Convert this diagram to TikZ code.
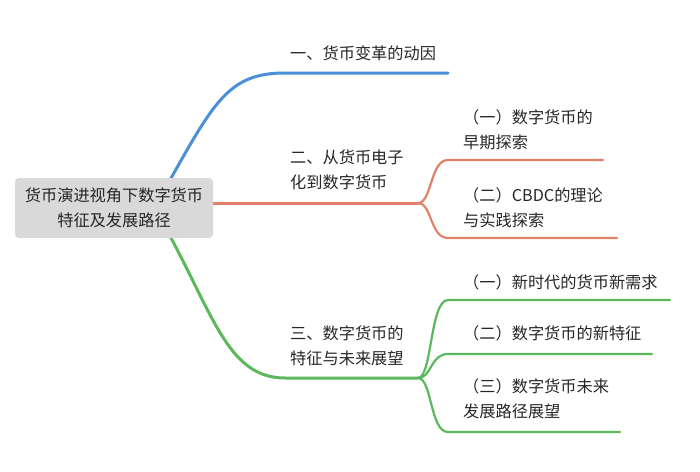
\documentclass[tikz,border=0pt]{standalone}
\usepackage{fontspec}
\setmainfont{Noto Sans CJK SC}
\begin{document}
\begin{tikzpicture}[x=1pt,y=-1pt,
  lbl/.style={anchor=west,align=left,font=\fontsize{16.2}{25}\selectfont,text=black!85,inner sep=0pt},
  br/.style={line width=3pt,line cap=round},
  sb/.style={line width=2.2pt,line cap=round}]
\useasboundingbox (0,0) rectangle (700,471);
\definecolor{cb}{HTML}{4A90D9}\definecolor{co}{HTML}{E0826A}\definecolor{cg}{HTML}{5CB85C}
% branches
\coordinate (rt) at (170,180); \coordinate (rr) at (211,203); \coordinate (rb) at (170,236);
\coordinate (b1) at (285,73); \coordinate (b1e) at (448,73);
\coordinate (o1) at (418,203);
\coordinate (o2) at (448,160); \coordinate (o2e) at (603,160);
\coordinate (o3) at (448,238); \coordinate (o3e) at (617,238);
\coordinate (g1) at (285,378); \coordinate (g1e) at (418,378);
\coordinate (g2) at (448,300); \coordinate (g2e) at (670,300);
\coordinate (g3) at (448,354); \coordinate (g3e) at (652,354);
\coordinate (g4) at (448,432); \coordinate (g4e) at (620,432);
\draw[br,cb] (rt) .. controls (215,100) and (230,73) .. (b1) -- (b1e);
\draw[br,co] (rr) -- (o1);
\draw[sb,co] (o1) .. controls (432,203) and (430,160) .. (o2) -- (o2e);
\draw[sb,co] (o1) .. controls (432,203) and (430,238) .. (o3) -- (o3e);
\draw[br,cg] (rb) .. controls (215,320) and (230,378) .. (g1) -- (g1e);
\draw[sb,cg] (g1e) .. controls (432,378) and (430,300) .. (g2) -- (g2e);
\draw[sb,cg] (g1e) .. controls (432,378) and (430,354) .. (g3) -- (g3e);
\draw[sb,cg] (g1e) .. controls (432,378) and (430,432) .. (g4) -- (g4e);
\node[fill=black!15,rounded corners=4pt,minimum width=198pt,minimum height=60pt,align=center,font=\fontsize{16.2}{25}\selectfont,text=black!85] (root) at (114,208) {货币演进视角下数字货币\\特征及发展路径};
\node[lbl] (t1) at (290,53) {一、货币变革的动因};
\node[lbl] (t2) at (290,170) {二、从货币电子\\化到数字货币};
\node[lbl] (t3) at (290,346) {三、数字货币的\\特征与未来展望};
\node[lbl] (s1) at (463,130) {（一）数字货币的\\早期探索};
\node[lbl] (s2) at (463,208) {（二）CBDC的理论\\与实践探索};
\node[lbl] (s3) at (463,282) {（一）新时代的货币新需求};
\node[lbl] (s4) at (463,333) {（二）数字货币的新特征};
\node[lbl] (s5) at (463,399) {（三）数字货币未来\\发展路径展望};
\end{tikzpicture}
\end{document}
